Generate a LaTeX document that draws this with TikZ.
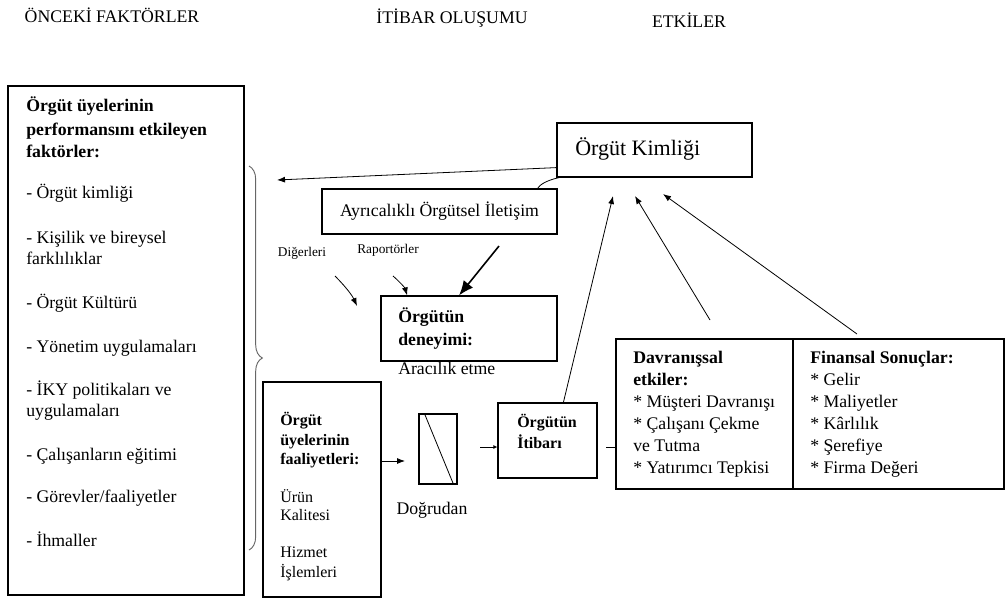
\documentclass[tikz,border=0pt]{standalone}
\usepackage{fontspec}
\setmainfont{Liberation Serif}
\usetikzlibrary{arrows.meta,fit,decorations.pathreplacing}

\tikzset{
  box/.style={draw, line width=0.9pt, inner sep=0pt},
  txt/.style={anchor=base west, inner sep=0pt, font=\fontsize{13.3}{15}\selectfont},
  btxt/.style={txt, font=\fontsize{13.3}{15}\selectfont\bfseries},
  stxt/.style={txt, font=\fontsize{12}{14}\selectfont},
  sbtxt/.style={txt, font=\fontsize{12}{14}\selectfont\bfseries},
  tiny/.style={inner sep=0pt, font=\fontsize{10}{11}\selectfont},
  head/.style={anchor=base, inner sep=0pt, font=\fontsize{13.3}{15}\selectfont},
  arr/.style={-{Latex[length=6pt,width=4.5pt]}, line width=0.6pt},
}

\begin{document}
\begin{tikzpicture}[x=0.75pt, y=-0.75pt]
  \useasboundingbox (0,0) rectangle (1005,601);
  % column titles
  \node[head] (tpre) at (112,22) {ÖNCEKİ FAKTÖRLER};
  \node[head] (tform) at (452,23) {İTİBAR OLUŞUMU};
  \node[head] (teff) at (689,27) {ETKİLER};

  % antecedents
  \node[box, fit={(8,86) (244,595)}] (fac) {};
  \foreach \y/\t [count=\i] in {111/Örgüt üyelerinin, 135/performansını etkileyen, 157/faktörler:}
    \node[btxt] (fach\i) at (26,\y) {\t};
  \foreach \y/\t [count=\i] in {198/- Örgüt kimliği, 243/- Kişilik ve bireysel, 264/farklılıklar,
      308/- Örgüt Kültürü, 352/- Yönetim uygulamaları, 395/- İKY politikaları ve, 416/uygulamaları,
      460/- Çalışanların eğitimi, 502/{- Görevler/faaliyetler}, 546/- İhmaller}
    \node[txt] (faci\i) at (26,\y) {\t};
  \draw[black!60, line width=0.7pt, decorate, decoration={brace, amplitude=10pt}] (249,166) -- (249,550);

  % identity
  \node[box, fit={(557,123) (752,177)}] (kimlik) {};
  \node[txt, font=\fontsize{16.5}{18}\selectfont] (kimlikt) at (575,155) {Örgüt Kimliği};
  \node[box, minimum width=176.25pt, minimum height=33.75pt, font=\fontsize{13.3}{15}\selectfont] (ayr) at (439.5,211.5) {Ayrıcalıklı Örgütsel İletişim};
  \coordinate (braceto) at (277,180);
  \draw[arr] ([yshift=7.5pt]kimlik.south west) -- (braceto);
  \draw[line width=0.6pt] ([xshift=2pt]kimlik.south west) .. controls (548,180) and (540,184) .. (537,189);

  % experience
  \node[tiny] (diger) at (302,253) {Diğerleri};
  \node[tiny] (rapor) at (388,250) {Raportörler};
  \node[box, fit={(381,296) (557,361)}] (den) {};
  \node[btxt] (dent1) at (398,322) {Örgütün};
  \node[btxt] (dent2) at (398,345) {deneyimi:};
  \node[txt] (dent3) at (398,374) {Aracılık etme};
  \coordinate (diga) at (335,276);
  \coordinate (digb) at (357,306);
  \coordinate (rapa) at (393,276);
  \coordinate (ayra) at (499,246);
  \draw[arr] (diga) .. controls (345,286) and (352,295) .. (digb);
  \draw[arr] (rapa) .. controls (400,282) and (405,288) .. ([xshift=20pt]den.north west);
  \draw[-{Latex[length=11pt,width=9pt]}, line width=1.2pt] (ayra) -- ([xshift=59pt]den.north west);

  % direct route
  \node[box, fit={(263,382) (381,597)}] (faal) {};
  \foreach \y/\t [count=\i] in {425/Örgüt, 445/üyelerinin, 464/faaliyetleri:}
    \node[sbtxt] (faalh\i) at (280,\y) {\t};
  \foreach \y/\t [count=\i] in {502/Ürün, 520/Kalitesi, 557/Hizmet, 577/İşlemleri}
    \node[stxt] (faali\i) at (280,\y) {\t};
  \node[box, fit={(419,414) (457,484)}] (dir) {};
  \draw[line width=0.6pt] ([xshift=4.5pt]dir.north west) -- ([xshift=-3pt]dir.south east);
  \node[font=\fontsize{13.3}{15}\selectfont, inner sep=0pt] (dirt) at (432,510) {Doğrudan};
  \coordinate (faalo) at (381,461);
  \draw[arr] (faalo) -- (405,461);

  % reputation
  \node[box, fit={(498,403) (597,478)}] (itibar) {};
  \node[sbtxt] (itibart1) at (517,427) {Örgütün};
  \node[sbtxt] (itibart2) at (517,448) {İtibarı};
  \coordinate (diro) at (480,447);
  \draw[-{Latex[length=3pt,width=3pt]}, line width=0.6pt] (diro) -- (itibar.west |- diro);

  % effects
  \node[box, fit={(616,339) (793,489)}] (davr) {};
  \node[box, fit={(793,339) (1004,489)}] (fin) {};
  \foreach \y/\t [count=\i] in {363/Davranışsal, 385/etkiler:}
    \node[btxt] (davrh\i) at (633,\y) {\t};
  \foreach \y/\t [count=\i] in {407/* Müşteri Davranışı, 429/* Çalışanı Çekme, 451/ve Tutma, 473/* Yatırımcı Tepkisi}
    \node[txt] (davri\i) at (633,\y) {\t};
  \node[btxt] (finh) at (810,363) {Finansal Sonuçlar:};
  \foreach \y/\t [count=\i] in {385/* Gelir, 407/* Maliyetler, 429/* Kârlılık, 451/* Şerefiye, 473/* Firma Değeri}
    \node[txt] (fini\i) at (810,\y) {\t};
  \coordinate (itibaro) at (606,447);
  \draw[line width=0.6pt] (itibaro) -- (davr.west |- itibaro);

  % feedback to identity
  \coordinate (kimin1) at (613,196);
  \coordinate (kimin2) at (635,196);
  \coordinate (kimin3) at (663,194);
  \coordinate (davro) at (710,320);
  \coordinate (fino) at (857,334);
  \draw[arr] ([xshift=49.5pt]itibar.north west) -- (kimin1);
  \draw[arr] (davro) -- (kimin2);
  \draw[arr] (fino) -- (kimin3);
\end{tikzpicture}
\end{document}
